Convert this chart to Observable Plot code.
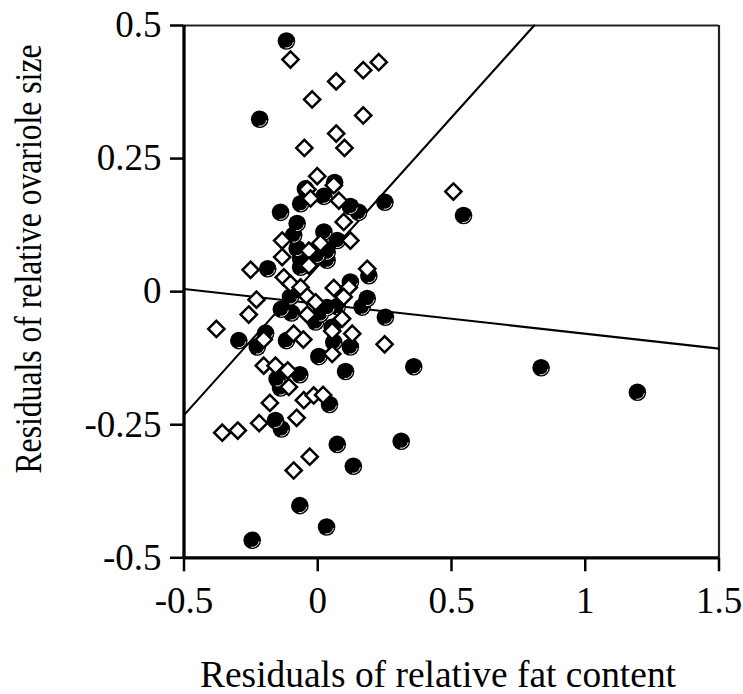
<!DOCTYPE html>
<html>
<head>
<meta charset="utf-8">
<script src="https://cdn.jsdelivr.net/npm/d3@7"></script>
<script src="https://cdn.jsdelivr.net/npm/@observablehq/plot@0.6"></script>
<style>
  html, body { margin: 0; padding: 0; background: white; }
  #chart { width: 743px; height: 694px; }
</style>
</head>
<body>
<div id="chart"></div>
<script>
// Filled circles
const circleX = [-0.117,-0.217,0.063,-0.046,0.023,0.251,-0.064,0.122,0.153,-0.139,
  -0.077,0.023,-0.090,0.073,-0.077,0.035,-0.002,-0.064,0.035,-0.064,
  -0.187,0.191,0.122,-0.102,0.185,-0.136,0.035,0.073,0.253,-0.098,
  0.010,0.166,-0.008,0.054,-0.295,-0.195,-0.226,-0.117,0.122,0.060,
  0.004,0.359,-0.067,0.104,-0.152,-0.139,0.044,-0.158,-0.136,0.073,
  0.312,0.133,-0.067,0.033,-0.245,0.545,0.835,1.195];
const circleY = [0.471,0.324,0.205,0.193,0.179,0.168,0.165,0.160,0.149,0.149,
  0.128,0.112,0.106,0.096,0.081,0.074,0.068,0.062,0.059,0.046,
  0.043,0.030,0.018,-0.010,-0.013,-0.033,-0.030,-0.028,-0.048,-0.040,
  -0.042,-0.029,-0.057,-0.067,-0.092,-0.078,-0.104,-0.092,-0.104,-0.095,
  -0.122,-0.141,-0.156,-0.150,-0.164,-0.181,-0.212,-0.242,-0.258,-0.287,
  -0.281,-0.328,-0.402,-0.442,-0.467,0.143,-0.143,-0.189];

// Open diamonds
const diamondX = [-0.102,0.228,0.170,0.069,-0.021,0.170,0.069,0.100,-0.050,-0.002,
  0.060,-0.039,-0.027,0.079,0.097,-0.133,0.010,0.122,-0.133,-0.033,
  -0.033,-0.251,0.185,-0.127,-0.102,0.060,0.116,-0.064,-0.039,-0.229,
  0.097,-0.008,-0.258,-0.039,0.091,-0.379,-0.202,-0.090,-0.054,0.054,
  0.129,0.054,0.250,-0.202,-0.158,-0.112,-0.108,-0.179,-0.052,-0.015,
  0.020,-0.079,-0.219,-0.357,-0.299,-0.030,-0.090,0.507];
const diamondY = [0.436,0.431,0.416,0.395,0.361,0.331,0.297,0.270,0.270,0.217,
  0.200,0.192,0.175,0.171,0.131,0.096,0.091,0.096,0.065,0.077,
  0.049,0.041,0.043,0.027,0.015,0.007,0.008,0.008,-0.009,-0.015,
  -0.010,-0.020,-0.043,-0.043,-0.051,-0.070,-0.090,-0.079,-0.090,-0.074,
  -0.079,-0.117,-0.099,-0.139,-0.139,-0.148,-0.179,-0.209,-0.204,-0.195,
  -0.194,-0.237,-0.247,-0.265,-0.261,-0.310,-0.336,0.188];

// Fitted lines (end points)
const steepFitX = [-0.5, 0.809];
const steepFitY = [-0.232, 0.5];
const flatFitX = [-0.5, 1.5];
const flatFitY = [0.005, -0.107];

// Axes
const xTicks = [-0.5, 0, 0.5, 1, 1.5];
const yTicks = [-0.5, -0.25, 0, 0.25, 0.5];
const xTitle = "Residuals of relative fat content";
const yTitle = "Residuals of relative ovariole size";

const circles = circleX.map((x, i) => ({x, y: circleY[i]}));
const diamonds = diamondX.map((x, i) => ({x, y: diamondY[i]}));
const steep = steepFitX.map((x, i) => ({x, y: steepFitY[i]}));
const flat = flatFitX.map((x, i) => ({x, y: flatFitY[i]}));
const fmt = d => String(d);

// small white highlight arc on the lower right of each filled circle
const highlight = {
  draw(context, size) {
    const r = Math.sqrt(size / Math.PI) * 0.8;
    const a0 = 0.15, a1 = 1.75;
    context.moveTo(r * Math.cos(a0), r * Math.sin(a0));
    context.arc(0, 0, r, a0, a1);
  }
};

const plot = Plot.plot({
  width: 743,
  height: 694,
  marginLeft: 183.5,
  marginRight: 24.5,
  marginTop: 25,
  marginBottom: 136.7,
  x: {domain: [-0.5, 1.5]},
  y: {domain: [-0.5, 0.5]},
  style: {
    fontFamily: "'Liberation Serif', 'Times New Roman', serif",
    fontSize: "37px",
    color: "black",
    background: "white",
    overflow: "visible"
  },
  marks: [
    Plot.ruleY([0.5], {stroke: "#222", strokeWidth: 2}),
    Plot.ruleX([1.5], {stroke: "#222", strokeWidth: 2.2}),
    Plot.line(steep, {x: "x", y: "y", stroke: "black", strokeWidth: 2.1}),
    Plot.line(flat, {x: "x", y: "y", stroke: "black", strokeWidth: 2.1}),
    Plot.dot(circles, {x: "x", y: "y", r: 8.8, fill: "black"}),
    Plot.dot(circles, {x: "x", y: "y", r: 8.8, symbol: highlight, fill: "none", stroke: "white", strokeWidth: 0.9}),
    Plot.dot(diamonds, {x: "x", y: "y", symbol: "diamond2", r: 7.3, fill: "white", stroke: "black", strokeWidth: 2.5}),
    Plot.axisX({ticks: xTicks, tickFormat: fmt, tickSize: 14, tickPadding: 15, strokeWidth: 2.5, label: null}),
    Plot.axisY({ticks: yTicks, tickFormat: fmt, tickSize: 13.5, tickPadding: 9, strokeWidth: 2.5, label: null}),
    Plot.ruleX([-0.5], {stroke: "black", strokeWidth: 3.3}),
    Plot.ruleY([-0.5], {stroke: "black", strokeWidth: 3.3})
  ]
});

const svg = d3.select(plot);
svg.append("text")
  .attr("x", 438)
  .attr("y", 687)
  .attr("text-anchor", "middle")
  .attr("font-size", 37.5)
  .attr("textLength", 476)
  .attr("lengthAdjust", "spacingAndGlyphs")
  .attr("fill", "black")
  .text(xTitle);
svg.append("text")
  .attr("transform", "translate(41,259) rotate(-90)")
  .attr("text-anchor", "middle")
  .attr("font-size", 38)
  .attr("textLength", 429)
  .attr("lengthAdjust", "spacingAndGlyphs")
  .attr("fill", "black")
  .text(yTitle);

document.getElementById("chart").appendChild(plot);
</script>
</body>
</html>
